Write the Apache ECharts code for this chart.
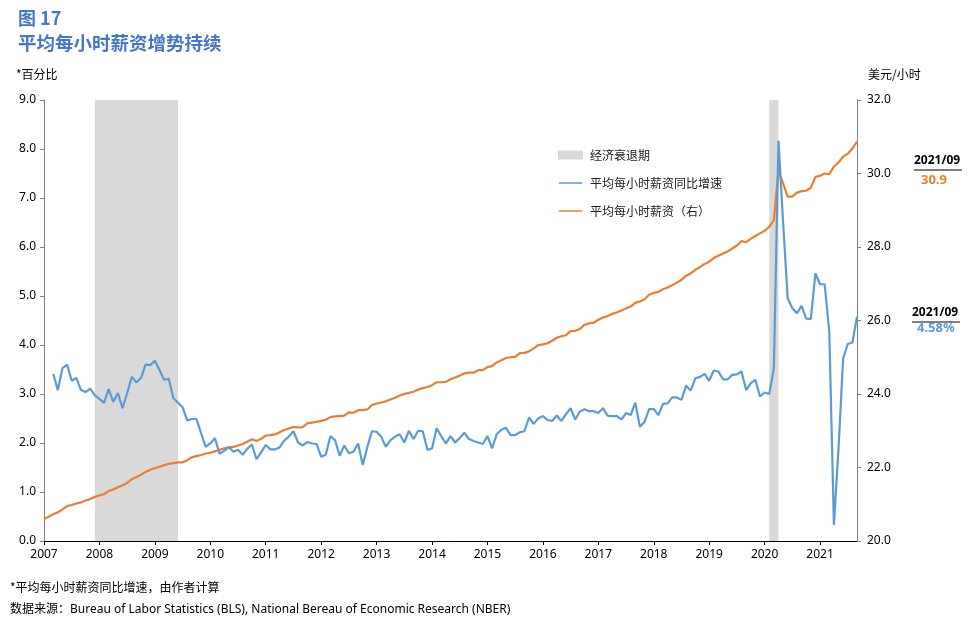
<!DOCTYPE html>
<html>
<head>
<meta charset="utf-8">
<script src="https://cdn.jsdelivr.net/npm/echarts@6/dist/echarts.min.js"></script>
<style>
  html, body { margin: 0; padding: 0; background: #fff; }
  #chart { width: 972px; height: 633px; }
</style>
</head>
<body>
<div id="chart"></div>
<script>
// 2007-01 .. 2021-09, monthly
const years = [2007, 2008, 2009, 2010, 2011, 2012, 2013, 2014, 2015, 2016, 2017, 2018, 2019, 2020, 2021];
const lastMonth = 9;

// 平均每小时薪资同比增速 (%), left axis
const wageGrowth = [
  null, null, 3.41, 3.08, 3.53, 3.60, 3.27, 3.33, 3.08, 3.04, 3.11, 2.97,
  2.90, 2.82, 3.10, 2.84, 3.02, 2.71, 3.02, 3.35, 3.24, 3.33, 3.60, 3.59,
  3.68, 3.49, 3.29, 3.31, 2.92, 2.82, 2.73, 2.46, 2.49, 2.49, 2.20, 1.92,
  1.99, 2.10, 1.78, 1.84, 1.92, 1.82, 1.86, 1.76, 1.88, 1.97, 1.67, 1.81,
  1.96, 1.87, 1.87, 1.91, 2.05, 2.13, 2.24, 2.01, 1.95, 2.02, 1.99, 1.98,
  1.72, 1.76, 2.14, 2.06, 1.74, 1.95, 1.79, 1.82, 1.99, 1.55, 1.92, 2.24,
  2.23, 2.13, 1.92, 2.06, 2.13, 2.18, 2.01, 2.25, 2.08, 2.25, 2.24, 1.86,
  1.89, 2.30, 2.14, 1.99, 2.14, 2.01, 2.10, 2.21, 2.08, 2.04, 2.01, 1.98,
  2.14, 1.89, 2.18, 2.27, 2.31, 2.16, 2.16, 2.22, 2.24, 2.52, 2.39, 2.50,
  2.55, 2.47, 2.45, 2.56, 2.45, 2.59, 2.71, 2.48, 2.64, 2.69, 2.65, 2.65,
  2.61, 2.71, 2.56, 2.55, 2.55, 2.48, 2.61, 2.57, 2.82, 2.33, 2.43, 2.69,
  2.69, 2.57, 2.80, 2.81, 2.93, 2.93, 2.88, 3.17, 3.07, 3.32, 3.35, 3.41,
  3.27, 3.48, 3.46, 3.30, 3.30, 3.39, 3.40, 3.46, 3.08, 3.22, 3.29, 2.95,
  3.03, 3.00, 3.52, 8.17, 6.50, 4.95, 4.75, 4.65, 4.80, 4.54, 4.53, 5.46,
  5.24, 5.24, 4.27, 0.33, 1.89, 3.73, 4.02, 4.05, 4.58
];

// 平均每小时薪资 (美元/小时), right axis
const hourlyWage = [
  20.60, 20.66, 20.73, 20.78, 20.86, 20.95, 20.98, 21.02, 21.05, 21.10, 21.14, 21.20,
  21.24, 21.28, 21.36, 21.40, 21.46, 21.52, 21.58, 21.68, 21.74, 21.80, 21.88, 21.94,
  21.98, 22.02, 22.06, 22.10, 22.12, 22.14, 22.14, 22.20, 22.28, 22.31, 22.34, 22.38,
  22.40, 22.44, 22.48, 22.52, 22.54, 22.56, 22.60, 22.64, 22.70, 22.77, 22.72, 22.78,
  22.87, 22.88, 22.90, 22.96, 23.02, 23.06, 23.10, 23.09, 23.10, 23.20, 23.22, 23.24,
  23.27, 23.30, 23.37, 23.39, 23.40, 23.41, 23.50, 23.49, 23.56, 23.56, 23.58, 23.70,
  23.74, 23.77, 23.80, 23.85, 23.90, 23.96, 24.00, 24.03, 24.06, 24.12, 24.16, 24.19,
  24.24, 24.32, 24.32, 24.33, 24.40, 24.45, 24.50, 24.56, 24.58, 24.58, 24.65, 24.65,
  24.73, 24.76, 24.86, 24.92, 24.98, 25.00, 25.01, 25.11, 25.12, 25.16, 25.24, 25.33,
  25.35, 25.38, 25.45, 25.53, 25.57, 25.60, 25.71, 25.72, 25.77, 25.88, 25.92, 25.94,
  26.02, 26.08, 26.12, 26.18, 26.22, 26.27, 26.33, 26.38, 26.48, 26.52, 26.58, 26.70,
  26.75, 26.78, 26.85, 26.90, 26.96, 27.03, 27.10, 27.22, 27.28, 27.38, 27.45, 27.54,
  27.60, 27.70, 27.76, 27.82, 27.88, 27.96, 28.04, 28.16, 28.13, 28.22, 28.30, 28.37,
  28.44, 28.55, 28.73, 30.08, 29.73, 29.37, 29.37, 29.48, 29.52, 29.53, 29.61, 29.91,
  29.94, 30.00, 29.98, 30.19, 30.30, 30.46, 30.54, 30.68, 30.87
];

// 经济衰退期 (NBER)
const recessions = [['2007-12', '2009-06'], ['2020-02', '2020-04']];

const leftTicks = { min: 0, max: 9, interval: 1 };
const rightTicks = { min: 20, max: 32, interval: 2 };

const months = [];
years.forEach(y => {
  const n = y === years[years.length - 1] ? lastMonth : 12;
  for (let m = 1; m <= n; m++) months.push(y + '-' + String(m).padStart(2, '0'));
});

const BLUE = '#5b9bd5', ORANGE = '#ed7d31', SHADE = '#d9d9d9', TITLE = '#4677c6';
const FONT = '"Noto Sans", "Noto Sans CJK SC", sans-serif';
const lastDate = months[months.length - 1].replace('-', '/');
// thin line icon for legend (bounding box 0..10 keeps the stroke thin)
const LINE_ICON = 'path://M0,0L0,0ZM0,4.2L26,4.2L26,5.8L0,5.8ZM26,10L26,10Z';

const chart = echarts.init(document.getElementById('chart'));

chart.setOption({
  backgroundColor: '#fff',
  animation: false,
  textStyle: { fontFamily: FONT },
  grid: { left: 44, right: 115, top: 100, bottom: 92 },
  legend: {
    orient: 'vertical', left: 558, top: 149, itemGap: 16, padding: 0,
    itemWidth: 25, itemHeight: 9,
    textStyle: { fontSize: 12, color: '#222', fontFamily: '"Noto Sans CJK SC", sans-serif', padding: [0, 0, 0, 2] },
    data: [
      { name: '经济衰退期', icon: 'rect', itemStyle: { color: SHADE } },
      { name: '平均每小时薪资同比增速', icon: LINE_ICON, itemStyle: { color: BLUE } },
      { name: '平均每小时薪资（右）', icon: LINE_ICON, itemStyle: { color: ORANGE } },
    ],
  },
  xAxis: {
    type: 'category', data: months, boundaryGap: false,
    axisLine: { lineStyle: { color: '#000', width: 1 } },
    axisTick: { interval: (i) => i % 12 === 0, length: 4, lineStyle: { color: '#000' } },
    axisLabel: {
      interval: (i) => i % 12 === 0, formatter: (v) => v.slice(0, 4),
      color: '#000', fontSize: 12, margin: 8,
    },
  },
  yAxis: [
    {
      type: 'value', ...leftTicks, splitLine: { show: false },
      axisLine: { show: true, lineStyle: { color: '#7f7f7f' } },
      axisTick: { show: true, length: 4, lineStyle: { color: '#7f7f7f' } },
      axisLabel: { formatter: (v) => v.toFixed(1), color: '#000', fontSize: 12, margin: 8 },
    },
    {
      type: 'value', ...rightTicks, splitLine: { show: false },
      axisLine: { show: true, lineStyle: { color: '#7f7f7f' } },
      axisTick: { show: true, length: 4, lineStyle: { color: '#7f7f7f' } },
      axisLabel: { formatter: (v) => v.toFixed(1), color: '#000', fontSize: 12, margin: 10 },
    },
  ],
  series: [
    {
      name: '经济衰退期', type: 'line', data: [], symbol: 'none',
      itemStyle: { color: SHADE }, lineStyle: { color: SHADE },
      markArea: {
        silent: true, itemStyle: { color: SHADE },
        data: recessions.map(([a, b]) => [{ xAxis: a }, { xAxis: b }]),
      },
      z: 1,
    },
    {
      name: '平均每小时薪资同比增速', type: 'line', data: wageGrowth, yAxisIndex: 0,
      symbol: 'none', itemStyle: { color: BLUE }, lineStyle: { color: BLUE, width: 2.2 }, z: 3,
    },
    {
      name: '平均每小时薪资（右）', type: 'line', data: hourlyWage, yAxisIndex: 1,
      symbol: 'none', itemStyle: { color: ORANGE }, lineStyle: { color: ORANGE, width: 2.2 }, z: 2,
    },
  ],
  graphic: [
    { type: 'text', left: 18, top: 9, style: { text: '图 17', fill: TITLE, font: 'bold 18px "Noto Sans CJK SC", sans-serif' } },
    { type: 'text', left: 18, top: 34, style: { text: '平均每小时薪资增势持续', fill: TITLE, font: 'bold 18.5px "Noto Sans CJK SC", serif' } },
    { type: 'text', left: 16, top: 68, style: { text: '*百分比', fill: '#000', font: '12px "Noto Sans CJK SC", sans-serif' } },
    { type: 'text', left: 868, top: 68, style: { text: '美元/小时', fill: '#000', font: '12px "Noto Sans CJK SC", sans-serif' } },
    // end-of-series annotations
    { type: 'text', left: 914, top: 155, style: { text: lastDate, fill: '#000', font: 'bold 12px "Noto Sans", sans-serif' } },
    { type: 'line', shape: { x1: 914, y1: 170, x2: 962, y2: 170 }, style: { stroke: '#000', lineWidth: 1 } },
    { type: 'text', left: 921, top: 174, style: { text: hourlyWage[hourlyWage.length - 1].toFixed(1), fill: ORANGE, font: 'bold 13px "Noto Sans", sans-serif' } },
    { type: 'text', left: 912, top: 307, style: { text: lastDate, fill: '#000', font: 'bold 12px "Noto Sans", sans-serif' } },
    { type: 'line', shape: { x1: 912, y1: 322, x2: 960, y2: 322 }, style: { stroke: '#000', lineWidth: 1 } },
    { type: 'text', left: 917, top: 322, style: { text: wageGrowth[wageGrowth.length - 1].toFixed(2) + '%', fill: BLUE, font: 'bold 13px "Noto Sans", sans-serif' } },
    // footnotes
    { type: 'text', left: 10, top: 581, style: { text: '*平均每小时薪资同比增速，由作者计算', fill: '#000', font: '12px "Noto Sans CJK SC", sans-serif' } },
    { type: 'text', left: 10, top: 604, style: { text: '数据来源：Bureau of Labor Statistics (BLS), National Bereau of Economic Research (NBER)', fill: '#000', font: '12px "Noto Sans", "Noto Sans CJK SC", sans-serif' } },
  ],
});
</script>
</body>
</html>
